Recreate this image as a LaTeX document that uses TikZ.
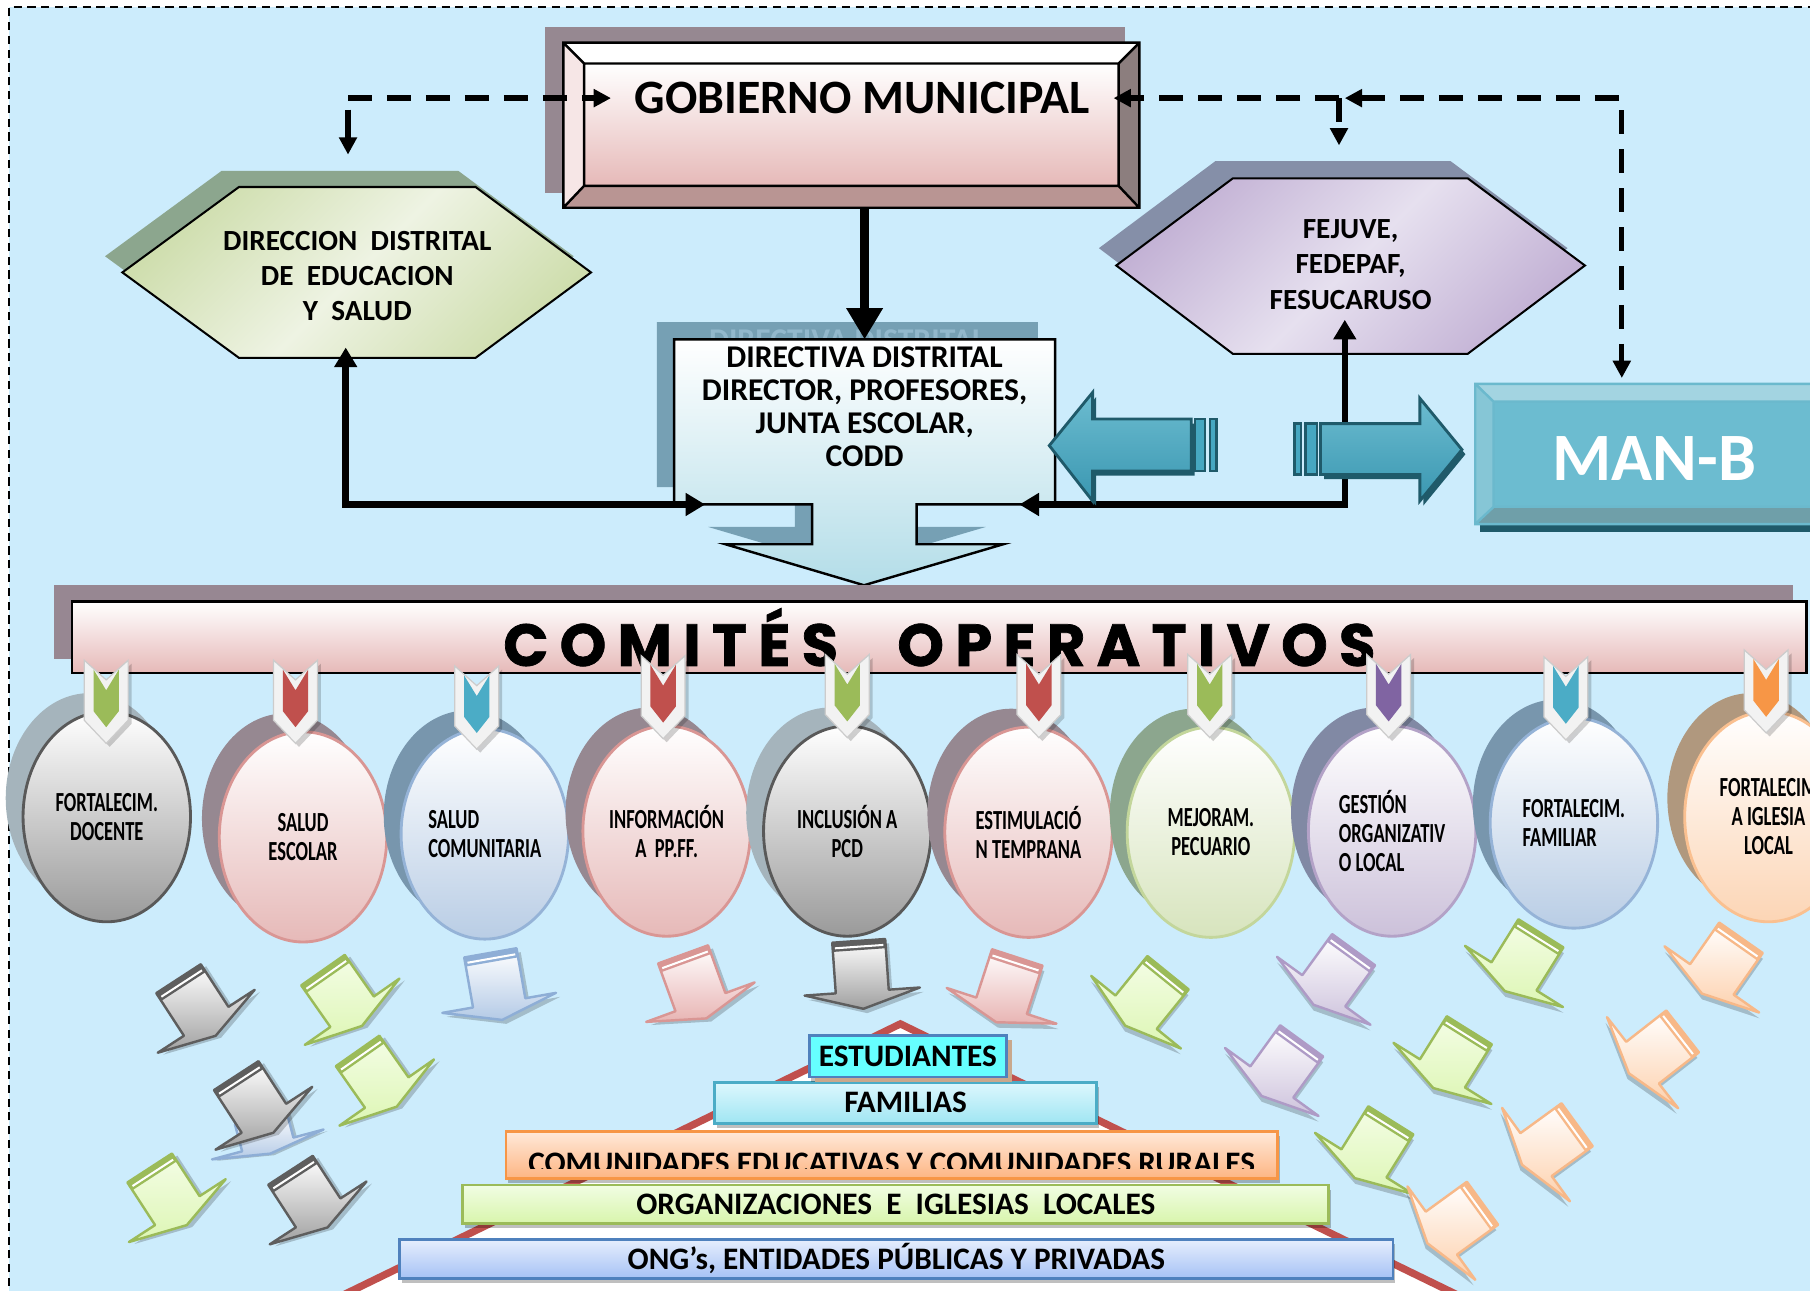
\documentclass[tikz,border=0pt]{standalone}
\usepackage{fontspec}
\setmainfont{Carlito}
\newfontfamily\condfont[FakeStretch=0.67]{Carlito}
\newfontfamily\titlefont[LetterSpace=19, FakeBold=1.2]{Poppins}
\usetikzlibrary{arrows.meta,shadows,shapes.geometric}
\definecolor{bgblue}{HTML}{CCECFC}
\definecolor{gobsh}{HTML}{968891}
\definecolor{gobpink}{HTML}{E6B9B8}
\definecolor{gobrt}{HTML}{8C7E7E}
\definecolor{gobbt}{HTML}{B99593}
\definecolor{goblt}{HTML}{F6E6E6}
\definecolor{ddesh}{HTML}{8CA68E}
\definecolor{ddeL}{HTML}{EEF3E3}
\definecolor{ddeD}{HTML}{CFDEAE}
\definecolor{fejsh}{HTML}{858FA8}
\definecolor{fejL}{HTML}{E6E0EF}
\definecolor{fejD}{HTML}{C3B2D5}
\definecolor{dirsh}{HTML}{76A0B4}
\definecolor{dirtx}{HTML}{92B8CC}
\definecolor{dirblu}{HTML}{B3DDE8}
\definecolor{tealA}{HTML}{46A7C1}
\definecolor{tealL}{HTML}{6CBCD0}
\definecolor{tealK}{HTML}{3A97B1}
\definecolor{tealO}{HTML}{1F5A6A}
\definecolor{manbt}{HTML}{A3D4E1}
\definecolor{manlt}{HTML}{86C6D6}
\definecolor{manbb}{HTML}{6F9FA9}
\definecolor{comsh}{HTML}{978792}
\definecolor{oGryO}{HTML}{595959}
\definecolor{oGryD}{HTML}{9A9A9A}
\definecolor{oPnkO}{HTML}{D99694}
\definecolor{oPnkD}{HTML}{E6B9B8}
\definecolor{oBluO}{HTML}{95B3D7}
\definecolor{oBluD}{HTML}{B9CDE5}
\definecolor{oGrnO}{HTML}{C3D69B}
\definecolor{oGrnD}{HTML}{D7E4BD}
\definecolor{oPurO}{HTML}{B3A2C7}
\definecolor{oPurD}{HTML}{CCC1DA}
\definecolor{oOrgO}{HTML}{FAC090}
\definecolor{oOrgD}{HTML}{FCD5B5}
\definecolor{sGry}{HTML}{A5B4BC}
\definecolor{sMau}{HTML}{968891}
\definecolor{sBlu}{HTML}{7896AD}
\definecolor{sGrn}{HTML}{8CA68E}
\definecolor{sPur}{HTML}{8189A4}
\definecolor{sOrg}{HTML}{B0987E}
\definecolor{tgrn}{HTML}{9BBB59}
\definecolor{tred}{HTML}{C0504D}
\definecolor{tteal}{HTML}{4BACC6}
\definecolor{tpur}{HTML}{8064A2}
\definecolor{torg}{HTML}{F79646}
\definecolor{tagw}{HTML}{F2F2F2}
\definecolor{agryL}{HTML}{FFFFFF}
\definecolor{agryD}{HTML}{A0A0A0}
\definecolor{agryO}{HTML}{5E5E5E}
\definecolor{agrnL}{HTML}{F4FDE6}
\definecolor{agrnD}{HTML}{DDF6B4}
\definecolor{agrnO}{HTML}{9BBB59}
\definecolor{abluL}{HTML}{FFFFFF}
\definecolor{abluD}{HTML}{B4CAE6}
\definecolor{abluO}{HTML}{8EAED6}
\definecolor{apnkL}{HTML}{FFFFFF}
\definecolor{apnkD}{HTML}{E8B4B3}
\definecolor{apnkO}{HTML}{D99694}
\definecolor{apurL}{HTML}{FFFFFF}
\definecolor{apurD}{HTML}{CDC2DC}
\definecolor{apurO}{HTML}{AE9BC6}
\definecolor{apchL}{HTML}{FFFFFF}
\definecolor{apchD}{HTML}{FDD0AC}
\definecolor{apchO}{HTML}{F7B888}
\definecolor{pyrred}{HTML}{C0504D}
\definecolor{estF}{HTML}{66FFFF}
\definecolor{estO}{HTML}{4F81BD}
\definecolor{estsh}{HTML}{C9A88C}
\definecolor{famL}{HTML}{DDF7FD}
\definecolor{famD}{HTML}{A0E6F3}
\definecolor{famO}{HTML}{4BACC6}
\definecolor{comL}{HTML}{FFE9D9}
\definecolor{comD}{HTML}{FDB583}
\definecolor{comO}{HTML}{F79646}
\definecolor{orgL}{HTML}{F1FDE3}
\definecolor{orgD}{HTML}{D8F5AC}
\definecolor{orgO}{HTML}{9BBB59}
\definecolor{ongL}{HTML}{E6EEFD}
\definecolor{ongD}{HTML}{A6C2F5}
\definecolor{ongO}{HTML}{4F81BD}
\tikzset{
  hold/.style={inner sep=0, outer sep=0},
  outerframe/.style={dashed, line width=0.45pt, dash pattern=on 2pt off 1.4pt},
  hextxt/.style={hold, align=center, font=\bfseries\fontsize{7.2}{8.7}\selectfont},
  dirtext/.style={align=center, inner sep=0, font=\bfseries\fontsize{7.8}{8.1}\selectfont},
  hexdde/.style={left color=ddeD, right color=ddeD, middle color=ddeL, shading angle=45,
                 draw=black, line width=0.5pt,
                 general shadow={fill=ddesh, shadow xshift=-0.15cm, shadow yshift=0.14cm}},
  hexfej/.style={left color=fejD, right color=fejD, middle color=fejL, shading angle=45,
                 draw=black, line width=0.5pt,
                 general shadow={fill=fejsh, shadow xshift=-0.15cm, shadow yshift=0.15cm}},
  dasharr/.style={line width=1.3pt, dash pattern=on 6pt off 3.6pt, -{Triangle[length=0.15cm, width=0.15cm]}},
  heavy/.style={line width=2.4pt, -{Triangle[length=0.27cm, width=0.3cm]}},
  link/.style={line width=1.6pt, {Triangle[length=0.17cm, width=0.19cm]}-{Triangle[length=0.17cm, width=0.19cm]}},
  tealarr/.style={top color=tealL, middle color=tealA, bottom color=tealK, draw=tealO, line width=0.7pt,
                  general shadow={fill=tealO, shadow xshift=0.03cm, shadow yshift=-0.04cm}},
  tealbar/.style={fill=tealA, draw=tealO, line width=0.6pt},
  oval/.style={ellipse, minimum width=1.45cm, minimum height=1.82cm, inner sep=0, line width=0.7pt,
               align=center, font=\condfont\bfseries\fontsize{6.8}{7.1}\selectfont, top color=white},
  ogry/.style={oval, draw=oGryO, bottom color=oGryD, general shadow={fill=sGry, shadow xshift=-0.15cm, shadow yshift=0.16cm}},
  opnk/.style={oval, draw=oPnkO, bottom color=oPnkD, general shadow={fill=sMau, shadow xshift=-0.15cm, shadow yshift=0.16cm}},
  oblu/.style={oval, draw=oBluO, bottom color=oBluD, general shadow={fill=sBlu, shadow xshift=-0.15cm, shadow yshift=0.16cm}},
  ogrn/.style={oval, draw=oGrnO, bottom color=oGrnD, general shadow={fill=sGrn, shadow xshift=-0.15cm, shadow yshift=0.16cm}},
  opur/.style={oval, draw=oPurO, bottom color=oPurD, general shadow={fill=sPur, shadow xshift=-0.15cm, shadow yshift=0.16cm}},
  oorg/.style={oval, draw=oOrgO, bottom color=oOrgD, general shadow={fill=sOrg, shadow xshift=-0.15cm, shadow yshift=0.16cm}},
  pbar/.style={draw, line width=0.7pt, inner sep=0, font=\bfseries\fontsize{7.7}{8}\selectfont,
               general shadow={fill=black, opacity=0.25, shadow xshift=0.02cm, shadow yshift=-0.04cm}},
  tag/.pic={
    \fill[black, opacity=0.18] (-16,3) -- (3,20) -- (22,3) -- (22,55) -- (3,75) -- (-16,55) -- cycle;
    \filldraw[fill=tagw, draw=black!20, line width=0.3pt] (-19,0) -- (0,17) -- (19,0) -- (19,52) -- (0,72) -- (-19,52) -- cycle;
    \fill[fill=#1] (-11,8) -- (0,26) -- (11,8) -- (11,44) -- (0,58) -- (-11,44) -- cycle;
  },
  darr/.pic={
    \fill[black, opacity=0.2] (-20,-26) -- (26,-26) -- (26,18) -- (53,18) -- (3,33) -- (-47,18) -- (-20,18) -- cycle;
    \shade[top color=#1L, bottom color=#1D, draw=#1O, line width=0.6pt, line join=round]
      (-23,-30) -- (23,-30) -- (23,14) -- (50,14) -- (0,29) -- (-50,14) -- (-23,14) -- cycle;
    \fill[fill=#1O] (-23,-30) rectangle (23,-22);
    \draw[white, line width=0.5pt] (-21,-25) -- (21,-25);
  },
}
\begin{document}
\begin{tikzpicture}[x=0.01cm, y=-0.01cm]
  \useasboundingbox (0,0) rectangle (1568,1118);
  \clip (0,0) rectangle (1568,1118);
  \fill[bgblue] (8,6) rectangle (1600,1150);
  \draw[outerframe] (8,1150) -- (8,6) -- (1600,6);

  % pyramid
  \filldraw[fill=white, draw=pyrred, line width=1.8pt] (780,887) -- (260,1140) -- (1300,1140) -- cycle;
  \node[pbar, draw=ongO, top color=ongL, bottom color=ongD, minimum width=8.6cm, minimum height=0.337cm] (ong) at (776.5,1090.5) {ONG’s, ENTIDADES PÚBLICAS Y PRIVADAS};
  \node[pbar, draw=orgO, top color=orgL, bottom color=orgD, minimum width=7.5cm, minimum height=0.332cm] (org) at (776,1043.2) {ORGANIZACIONES~~E~~IGLESIAS~~LOCALES};
  \node[pbar, draw=comO, top color=comL, bottom color=comD, minimum width=6.68cm, minimum height=0.404cm] (comu) at (772.5,1000.6) {};
  \begin{scope}
    \clip (438,980) rectangle (1107,1012);
    \node[anchor=base, inner sep=0, font=\bfseries\fontsize{7.7}{8}\selectfont] (comut) at (772.5,1016.5) {COMUNIDADES EDUCATIVAS Y COMUNIDADES RURALES};
  \end{scope}
  \node[pbar, draw=famO, top color=famL, bottom color=famD, minimum width=3.31cm, minimum height=0.354cm] (fam) at (784.5,955.3) {FAMILIAS};
  \node[pbar, draw=estO, fill=estF, minimum width=1.71cm, minimum height=0.36cm,
        general shadow={fill=estsh, shadow xshift=0.05cm, shadow yshift=-0.04cm}] (estu) at (786.5,915) {ESTUDIANTES};

  % falling arrows
  \pic[rotate=15, yscale=0.55] at (230,984) {darr=ablu};
  \foreach \x/\y/\r/\c in {171/873/33/agry, 297/865/35/agrn, 430/855/10/ablu, 602/855/20/apnk,
      746/845/4/agry, 872/858/-18/apnk, 993/866/-39/agrn, 1155/847/-36/apur, 1319/834/-32/agrn,
      1491/837/-35/apch, 221/957/33/agry, 327/935/35/agrn, 146/1037/33/agrn, 268/1039/33/agry,
      1110/926/-36/apur, 1257/918/-32/agrn, 1434/912/-52/apch, 1189/996/-32/agrn,
      1342/992/-54/apch, 1260/1060/-54/apch}
    \pic[rotate=\r] at (\x,\y) {darr=\c};

  % gobierno municipal
  \fill[gobsh] (472,23) rectangle (975,167);
  \fill[white] (488,37) -- (987,37) -- (969,55) -- (506,55) -- cycle;
  \fill[goblt] (488,37) -- (506,55) -- (506,161) -- (488,180) -- cycle;
  \fill[gobrt] (987,37) -- (987,180) -- (969,161) -- (969,55) -- cycle;
  \fill[gobbt] (488,180) -- (987,180) -- (969,161) -- (506,161) -- cycle;
  \shade[top color=white, bottom color=gobpink] (506,55) rectangle (969,161);
  \draw[line width=0.6pt] (488,37) rectangle (987,180) (506,55) rectangle (969,161)
    (488,37) -- (506,55) (987,37) -- (969,55) (488,180) -- (506,161) (987,180) -- (969,161);
  \node[hold, minimum width=4.99cm, minimum height=1.43cm] (gobbox) at (737.5,108.5) {};
  \node[inner sep=0.2cm, font=\bfseries\fontsize{11.8}{12}\selectfont] (gob) at (747,85) {GOBIERNO MUNICIPAL};

  % hexagons
  \shade[hexdde] (106,236) -- (207,162) -- (412,162) -- (512,236) -- (412,310) -- (207,310) -- cycle;
  \node[hextxt, minimum width=2.05cm, minimum height=1.48cm] (dde) at (309.5,239) {DIRECCION~~DISTRITAL\\DE~~EDUCACION\\Y~~SALUD};
  \shade[hexfej] (967,230) -- (1068,154.5) -- (1271.5,154.5) -- (1373,230) -- (1271.5,306.5) -- (1068,306.5) -- cycle;
  \node[hextxt, minimum width=2.035cm, minimum height=1.52cm] (fej) at (1170,229) {FEJUVE,\\FEDEPAF,\\FESUCARUSO};

  % directiva distrital
  \begin{scope}[shift={(-15,-15)}]
    \fill[dirsh] (584,294) -- (914,294) -- (914,437) -- (794,437) -- (794,471.5) -- (869,471.5) -- (748.5,507)
      -- (628.5,471.5) -- (703.5,471.5) -- (703.5,437) -- (584,437) -- cycle;
    \node[dirtext, text=dirtx] at (749,310) {DIRECTIVA DISTRITAL};
  \end{scope}
  \shade[top color=white, bottom color=dirblu, draw=black, line width=0.6pt]
    (584,294) -- (914,294) -- (914,437) -- (794,437) -- (794,471.5) -- (869,471.5) -- (748.5,507)
    -- (628.5,471.5) -- (703.5,471.5) -- (703.5,437) -- (584,437) -- cycle;
  \node[hold, minimum width=3.3cm, minimum height=1.43cm] (dir) at (749,365.5) {};
  \node[dirtext] (dirt) at (749,352.5) {DIRECTIVA DISTRITAL\\DIRECTOR, PROFESORES,\\JUNTA ESCOLAR,\\CODD};

  % man-b
  \node[hold, minimum width=3.22cm, minimum height=1.215cm] (manb) at (1439,393.25) {};
  \fill[tealO] (1282,454) rectangle (1600,461);
  \fill[manbt] (1278,332.5) -- (1600,332.5) -- (1600,348) -- (1294,348) -- cycle;
  \fill[manlt] (1278,332.5) -- (1294,348) -- (1294,439) -- (1278,454) -- cycle;
  \fill[manbb] (1278,454) -- (1294,439) -- (1600,439) -- (1600,454) -- cycle;
  \shade[top color=tealL, middle color=tealA, bottom color=tealL] (1294,348) rectangle (1600,439);
  \draw[draw=tealA!80!white, line width=0.6pt] (1278,332.5) rectangle (1600,454)
    (1294,348) -- (1600,348) (1294,348) -- (1294,439) -- (1600,439) (1278,332.5) -- (1294,348) (1278,454) -- (1294,439);
  \node[text=white, font=\bfseries\fontsize{16.7}{17}\selectfont] (mantx) at (1433,397) {MAN-B};

  % connectors
  \coordinate (dl) at ([xshift=-0.08cm]dde.north |- gob.west);
  \draw[dasharr] (dl) -- (gob.west);
  \draw[line width=1.3pt, -{Triangle[length=0.15cm, width=0.15cm]}] ([yshift=-0.1cm]dl) -- ([yshift=0.31cm]dl |- dde.north);
  \coordinate (jn) at ([xshift=-0.1cm]fej.north |- gob.east);
  \draw[dasharr] (jn) -- (gob.east);
  \draw[dasharr] (jn) -- ([yshift=0.27cm]jn |- fej.north);
  \draw[dasharr, {Triangle[length=0.15cm, width=0.15cm]}-{Triangle[length=0.15cm, width=0.15cm]}]
    ([xshift=0.05cm]jn) -| ([xshift=1.27cm, yshift=0.05cm]manb.north west);
  \draw[heavy] (dir.north |- gobbox.south) -- (dir.north);
  \draw[link] ([xshift=-0.1cm, yshift=0.12cm]dde.south) |- ([xshift=0.27cm]dir.south west);
  \draw[link] ([xshift=-0.05cm, yshift=0.28cm]fej.south) |- ([xshift=-0.31cm]dir.south east);

  % teal arrows
  \shade[tealarr] (909,386) -- (946.5,340) -- (946.5,363) -- (1032,363) -- (1032,408) -- (946.5,408) -- (946.5,434) -- cycle;
  \draw[tealbar] (1035,363) rectangle (1044,408) (1048,363) rectangle (1054,408);
  \shade[tealarr] (1266.5,389.5) -- (1230,345) -- (1230,367) -- (1144,367) -- (1144,411) -- (1230,411) -- (1230,434) -- cycle;
  \draw[tealbar] (1121.5,367) rectangle (1127,411) (1131,367) rectangle (1141,411);

  % comites operativos
  \fill[comsh] (47,507) rectangle (1553,571);
  \node[draw, line width=0.7pt, top color=white, bottom color=gobpink, minimum width=15.02cm, minimum height=0.62cm,
        inner sep=0, font=\titlefont\bfseries\fontsize{14.6}{15}\selectfont] (com) at (813.8,552) {COMITÉS\quad OPERATIVOS};

  % comites
  \node[ogry] (c1) at (92.5,707.5) {FORTALECIM.\\DOCENTE};
  \node[opnk] (c2) at (262.5,725) {SALUD\\ESCOLAR};
  \node[oblu, align=left] (c3) at (420,722.5) {SALUD\\COMUNITARIA};
  \node[opnk] (c4) at (577.5,720) {INFORMACIÓN\\A~~PP.FF.};
  \node[ogry] (c5) at (734,720) {INCLUSIÓN A\\PCD};
  \node[opnk] (c6) at (891,721) {ESTIMULACIÓ\\N TEMPRANA};
  \node[ogrn] (c7) at (1049,721) {MEJORAM.\\PECUARIO};
  \node[opur, align=left] (c8) at (1206,720) {GESTIÓN\\ORGANIZATIV\\O LOCAL};
  \node[oblu, align=left] (c9) at (1363.5,713) {FORTALECIM.\\FAMILIAR};
  \node[oorg] (c10) at (1532,707.5) {FORTALECIM\\A IGLESIA\\LOCAL};
  \foreach \x/\y/\c in {92/572/tgrn, 256/572/tred, 413/577/tteal, 574.5/568/tred, 734/567/tgrn,
      900/567/tred, 1048/567/tgrn, 1203/567/tpur, 1356.5/569/tteal, 1530/563/torg}
    \pic at (\x,\y) {tag=\c};
\end{tikzpicture}
\end{document}
